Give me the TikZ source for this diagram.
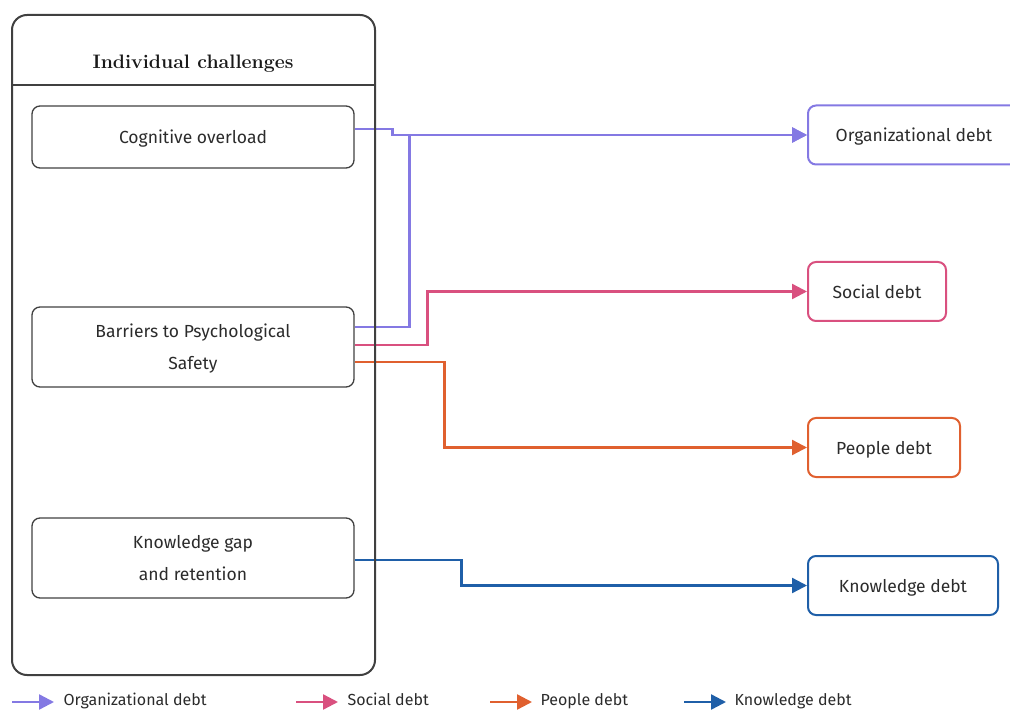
\documentclass[tikz,border=0pt]{standalone}
\usepackage{fontspec}
\setsansfont{Fira Sans}
\usetikzlibrary{arrows.meta,calc}

\definecolor{orgc}{HTML}{8479E3}
\definecolor{socc}{HTML}{D9507F}
\definecolor{peoc}{HTML}{E0602F}
\definecolor{knoc}{HTML}{1F5FA8}
\definecolor{txt}{HTML}{2B2B2B}

\tikzset{
  chal/.style={draw=black!75, line width=1.3pt, rounded corners=8pt, minimum width=322pt, align=center,
    text depth=0pt, text=txt, font=\sffamily\fontsize{17.5}{32}\selectfont},
  debt/.style={draw=#1, line width=2pt, rounded corners=8pt, minimum height=59pt, text depth=0pt, text=txt,
    font=\sffamily\fontsize{17.5}{20}\selectfont},
  link/.style={draw=#1, line width=2.4pt, -{Triangle[length=15pt,width=15pt]}},
  key/.style={text=txt, anchor=west, text height=12pt, text depth=3pt, font=\sffamily\fontsize{16}{18}\selectfont}
}

\begin{document}
\begin{tikzpicture}[x=1pt,y=-1pt]
    \useasboundingbox (0,0) rectangle (1010,711);

    % challenges
    \node[chal, minimum height=62pt] (cog) at (193,137) {Cognitive overload};
    \node[chal, minimum height=80pt] (bar) at (193,347) {Barriers to Psychological\\Safety};
    \node[chal, minimum height=80pt] (kno) at (193,558) {Knowledge gap\\and retention};

    % debts
    \node[debt=orgc, minimum width=212pt] (org) at (914,135) {Organizational debt};
    \node[debt=socc, minimum width=138pt] (soc) at (877,291.5) {Social debt};
    \node[debt=peoc, minimum width=152pt] (peo) at (884,447.5) {People debt};
    \node[debt=knoc, minimum width=190pt] (kdebt) at (903,585.5) {Knowledge debt};

    % links
    \draw[link=orgc] ($(cog.east)+(0,-8)$) -- ++(38,0) |- (org.west);
    \draw[link=orgc] ($(bar.east)+(0,-20)$) -- ++(55,0) |- (org.west);
    \draw[link=socc] ($(bar.east)+(0,-2)$) -- ++(73,0) |- (soc.west);
    \draw[link=peoc] ($(bar.east)+(0,15)$) -- ++(90,0) |- (peo.west);
    \draw[link=knoc] ($(kno.east)+(0,2)$) -- ++(107,0) |- (kdebt.west);

    % container
    \draw[black!75, line width=2pt, rounded corners=15pt] (12,15) rectangle (375,675);
    \draw[black!75, line width=1.5pt] (12,85) -- (375,85);
    \node[text=black!90, font=\bfseries\fontsize{19.5}{22}\selectfont] (title) at (193,63.5) {Individual challenges};

    % legend
    \draw[link=orgc] (12,702) -- (54,702);
    \node[key] (korg) at (60,701) {Organizational debt};
    \draw[link=socc] (296,702) -- (338,702);
    \node[key] (ksoc) at (344,701) {Social debt};
    \draw[link=peoc] (490,702) -- (532,702);
    \node[key] (kpeo) at (537,701) {People debt};
    \draw[link=knoc] (684,702) -- (726,702);
    \node[key] (kkno) at (731,701) {Knowledge debt};
\end{tikzpicture}
\end{document}
